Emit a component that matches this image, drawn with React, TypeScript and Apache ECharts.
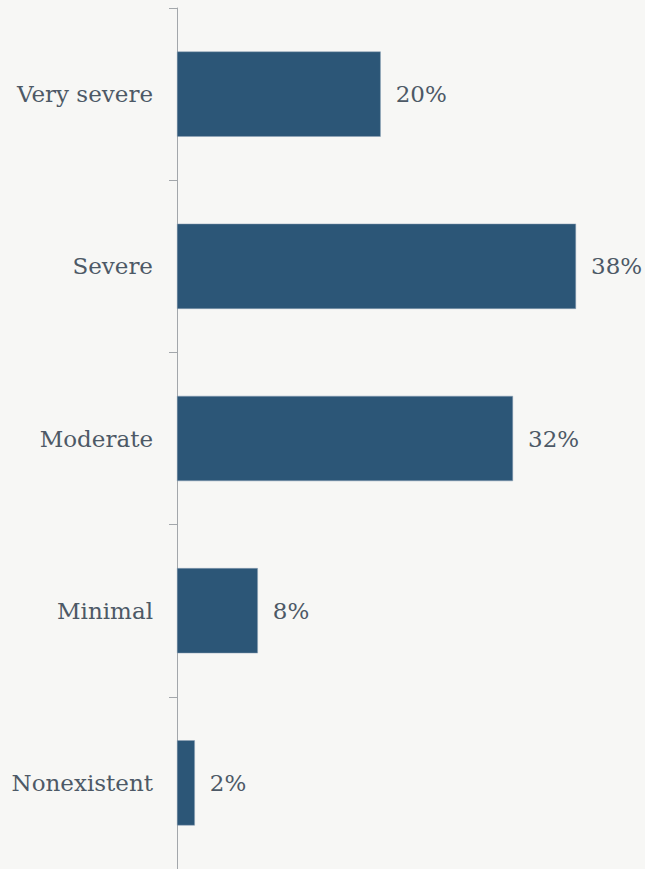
import React, { useEffect, useRef } from "react";
import * as echarts from "echarts";

const categories = ["Nonexistent", "Minimal", "Moderate", "Severe", "Very severe"];
const values = [1.7, 7.7, 32, 38, 19.4];
const labels = ["2%", "8%", "32%", "38%", "20%"];

export default function App() {
  const ref = useRef<HTMLDivElement>(null);
  useEffect(() => {
    document.body.style.margin = "0";
    document.body.style.background = "#f7f7f5";
    const chart = echarts.init(ref.current!, null, { renderer: "svg" });
    const font = "'DejaVu Serif', serif";
    chart.setOption({
      animation: false,
      backgroundColor: "#f7f7f5",
      grid: { left: 177, width: 420, top: 8, bottom: 0, containLabel: false },
      xAxis: {
        type: "value",
        min: 0,
        max: 40,
        show: false,
      },
      yAxis: {
        type: "category",
        data: categories,
        axisLine: { show: true, lineStyle: { color: "#a3a7ab", width: 1 } },
        axisTick: { show: true, length: 8, lineStyle: { color: "#a3a7ab" } },
        axisLabel: {
          color: "#4d5966",
          fontFamily: font,
          fontSize: 23,
          margin: 24,
        },
        splitLine: { show: false },
      },
      series: [
        {
          type: "bar",
          data: values,
          barWidth: "49.5%",
          itemStyle: { color: "#2c5677", borderColor: "#8ea3b7", borderWidth: 0.5 },
          label: {
            show: true,
            position: "right",
            distance: 15,
            color: "#4d5966",
            fontFamily: font,
            fontSize: 23,
            formatter: (p: any) => labels[p.dataIndex],
          },
        },
      ],
    });
    return () => chart.dispose();
  }, []);
  return <div ref={ref} style={{ width: 645, height: 869 }} />;
}
